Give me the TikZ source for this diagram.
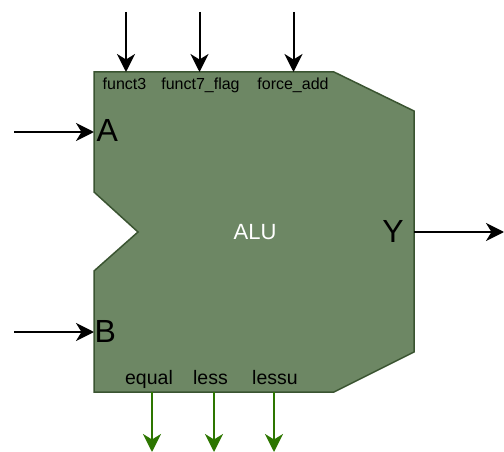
\documentclass[tikz,border=0pt]{standalone}
\usepackage{fontspec}
\setmainfont{Liberation Sans}
\usetikzlibrary{arrows.meta}
\definecolor{alufill}{HTML}{6D8764}
\definecolor{aluedge}{HTML}{3A5431}
\definecolor{flagline}{HTML}{2D7600}
\tikzset{
  alubody/.style={fill=alufill, draw=aluedge, line width=1.5pt, line join=miter},
  sig/.style={line width=2pt, -{Stealth[length=18pt, width=18pt, inset=5.5pt]}},
  insig/.style={sig, draw=black},
  outflag/.style={sig, draw=flagline, fill=flagline},
  ctrllabel/.style={anchor=base, inner sep=0pt, font=\fontsize{16}{18}\selectfont},
  flaglabel/.style={anchor=base, inner sep=0pt, font=\fontsize{19.5}{22}\selectfont},
  portlabel/.style={inner sep=0pt, font=\fontsize{32}{36}\selectfont},
}
\begin{document}
\begin{tikzpicture}[x=1pt, y=-1pt]
  \useasboundingbox (0,0) rectangle (504,452);

  % ALU outline with the notch between the two operand inputs
  \draw[alubody] (94,72) -- (334,72) -- (414,111) -- (414,352) -- (334,392)
    -- (94,392) -- (94,271) -- (138,232) -- (94,192) -- cycle;

  % operation name
  \node[anchor=base, inner sep=0pt, text=white, font=\fontsize{22}{24}\selectfont] (alu) at (255,239) {ALU};

  % control inputs on top
  \node[ctrllabel] (f3) at (124.5,90) {funct3};
  \node[ctrllabel] (f7) at (200.5,90) {funct7\_flag};
  \node[ctrllabel] (fa) at (293,90) {force\_add};
  \coordinate (f3in) at (126,12);  \coordinate (f3end) at (126,72);
  \coordinate (f7in) at (199.5,12); \coordinate (f7end) at (199.5,72);
  \coordinate (fain) at (293.5,12); \coordinate (faend) at (293.5,72);
  \draw[insig] (f3in) -- (f3end);
  \draw[insig] (f7in) -- (f7end);
  \draw[insig] (fain) -- (faend);

  % operand inputs and result
  \node[portlabel, anchor=base west] (pa) at (96.5,142) {A};
  \node[portlabel, anchor=base west] (pb) at (94.5,342) {B};
  \node[portlabel, anchor=base] (py) at (393,242) {Y};
  \coordinate (ain) at (14,132);  \coordinate (aend) at (94,132);
  \coordinate (bin) at (14,332);  \coordinate (bend) at (94,332);
  \coordinate (ystart) at (414,232); \coordinate (yout) at (504,232);
  \draw[insig] (ain) -- (aend);
  \draw[insig] (bin) -- (bend);
  \draw[insig] (ystart) -- (yout);

  % comparison flags at the bottom
  \node[flaglabel] (eq) at (149,384.5) {equal};
  \node[flaglabel] (lt) at (210.5,384.5) {less};
  \node[flaglabel] (ltu) at (275,384.5) {lessu};
  \coordinate (eqs) at (152,392);  \coordinate (eqo) at (152,452);
  \coordinate (lts) at (214,392);  \coordinate (lto) at (214,452);
  \coordinate (ltus) at (274,392); \coordinate (ltuo) at (274,452);
  \draw[outflag] (eqs) -- (eqo);
  \draw[outflag] (lts) -- (lto);
  \draw[outflag] (ltus) -- (ltuo);
\end{tikzpicture}
\end{document}
